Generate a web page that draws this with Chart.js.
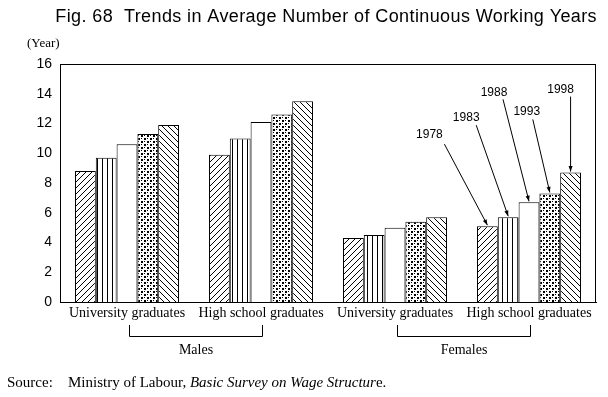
<!DOCTYPE html>
<html>
<head>
<meta charset="utf-8">
<script src="https://cdn.jsdelivr.net/npm/chart.js@4.4.0/dist/chart.umd.min.js"></script>
<style>
  html, body { margin: 0; padding: 0; background: #fff; }
  #chart { display: block; }
</style>
</head>
<body>
<canvas id="chart" width="608" height="397"></canvas>
<script>
// data
const categories = ['University graduates', 'High school graduates', 'University graduates', 'High school graduates'];
const genders = ['Males', 'Females'];
const years = ['1978', '1983', '1988', '1993', '1998'];
const v1978 = [8.8, 9.9, 4.3, 5.1];
const v1983 = [9.7, 11.0, 4.5, 5.7];
const v1988 = [10.6, 12.1, 5.0, 6.7];
const v1993 = [11.3, 12.6, 5.4, 7.3];
const v1998 = [11.9, 13.5, 5.7, 8.7];
const yTicks = [0, 2, 4, 6, 8, 10, 12, 14, 16];

const SANS = '"Liberation Sans", Arial, sans-serif';
const SERIF = '"Liberation Serif", "Times New Roman", serif';

// black & white fill patterns
function makePattern(kind) {
  if (kind === 'none') return '#fff';
  const s = kind === 'vertical' ? 5 : 6;
  const c = document.createElement('canvas');
  c.width = s; c.height = s;
  const g = c.getContext('2d');
  g.fillStyle = '#fff';
  g.fillRect(0, 0, s, s);
  g.strokeStyle = '#000';
  g.fillStyle = '#000';
  g.lineWidth = 1;
  g.beginPath();
  if (kind === 'slash') {
    g.moveTo(-1, s + 1); g.lineTo(s + 1, -1);
    g.moveTo(-1, 1); g.lineTo(1, -1);
    g.moveTo(s - 1, s + 1); g.lineTo(s + 1, s - 1);
    g.stroke();
  } else if (kind === 'backslash') {
    g.moveTo(-1, -1); g.lineTo(s + 1, s + 1);
    g.moveTo(-1, s - 1); g.lineTo(1, s + 1);
    g.moveTo(s - 1, -1); g.lineTo(s + 1, 1);
    g.stroke();
  } else if (kind === 'vertical') {
    g.fillRect(2, 0, 1, s);
  } else if (kind === 'dots') {
    g.fillRect(0, 0, 2, 2);
    g.fillRect(3, 3, 2, 2);
    g.fillRect(0, 3, 1, 1);
    g.fillRect(3, 0, 1, 1);
  }
  return document.getElementById('chart').getContext('2d').createPattern(c, 'repeat');
}

const fills = [makePattern('slash'), makePattern('vertical'), makePattern('none'), makePattern('dots'), makePattern('backslash')];
const series = [v1978, v1983, v1988, v1993, v1998];

// where the year labels sit relative to the top of each high-school-female bar
const yearLabelOffsets = [
  { lx: -58, ly: -91, ax: -43, ay: -82 },
  { lx: -42, ly: -100, ax: -32, ay: -92 },
  { lx: -35, ly: -110, ax: -26, ay: -103 },
  { lx: -23, ly: -82, ax: -17, ay: -74 },
  { lx: -10, ly: -83, ax: 0, ay: -76 },
];

const extras = {
  id: 'extras',
  afterDraw(chart) {
    const { ctx, chartArea: a, scales } = chart;
    const x = scales.x;
    ctx.save();

    // frame
    ctx.strokeStyle = '#000';
    ctx.lineWidth = 1;
    ctx.strokeRect(Math.round(a.left) + 0.5, Math.round(a.top) + 0.5, Math.round(a.right - a.left) - 1, Math.round(a.bottom - a.top));

    ctx.fillStyle = '#000';
    ctx.textBaseline = 'middle';

    // title (a bit wider set than the plain font)
    ctx.font = '18px ' + SANS;
    ctx.textAlign = 'right';
    ctx.letterSpacing = '0.4px';
    ctx.fillText('Fig. 68  Trends in Average Number of Continuous Working Years', 597, 17);
    ctx.letterSpacing = '0px';

    // unit label
    ctx.font = '13px ' + SERIF;
    ctx.textAlign = 'left';
    ctx.fillText('(Year)', 27, 44);

    // Males / Females brackets
    genders.forEach((g, i) => {
      const x1 = Math.round(x.getPixelForValue(i * 2)) + 2.5;
      const x2 = Math.round(x.getPixelForValue(i * 2 + 1)) + 1.5;
      const y1 = a.bottom + 23, y2 = a.bottom + 34.5;
      ctx.beginPath();
      ctx.moveTo(x1, y1); ctx.lineTo(x1, y2); ctx.lineTo(x2, y2); ctx.lineTo(x2, y1);
      ctx.stroke();
      ctx.font = '14px ' + SERIF;
      ctx.textAlign = 'center';
      ctx.fillText(g, (x1 + x2) / 2, a.bottom + 48);
    });

    // source
    ctx.textAlign = 'left';
    ctx.font = '15px ' + SERIF;
    ctx.fillText('Source:', 7, 383);
    let sx = 68;
    const parts = [['Ministry of Labour, ', ''], ['Basic Survey on Wage Structur', 'italic '], ['e.', '']];
    parts.forEach(([t, st]) => {
      ctx.font = st + '15px ' + SERIF;
      ctx.fillText(t, sx, 383);
      sx += ctx.measureText(t).width;
    });

    // year labels with arrows on the last group
    ctx.font = '12px ' + SANS;
    ctx.textAlign = 'center';
    years.forEach((yr, di) => {
      const bar = chart.getDatasetMeta(di).data[categories.length - 1];
      const bx = bar.x, by = bar.y;
      const o = yearLabelOffsets[di];
      ctx.fillText(yr, bx + o.lx, by + o.ly);
      const sx0 = bx + o.ax, sy0 = by + o.ay;
      const ex = bx, ey = by - 1;
      const ang = Math.atan2(ey - sy0, ex - sx0);
      ctx.beginPath();
      ctx.moveTo(sx0, sy0);
      ctx.lineTo(ex, ey);
      ctx.stroke();
      ctx.beginPath();
      ctx.moveTo(ex, ey);
      ctx.lineTo(ex - 6 * Math.cos(ang - 0.35), ey - 6 * Math.sin(ang - 0.35));
      ctx.lineTo(ex - 6 * Math.cos(ang + 0.35), ey - 6 * Math.sin(ang + 0.35));
      ctx.closePath();
      ctx.fill();
    });
    ctx.restore();
  }
};

new Chart(document.getElementById('chart'), {
  type: 'bar',
  data: {
    labels: categories,
    datasets: years.map((yr, i) => ({
      label: yr,
      data: series[i],
      backgroundColor: fills[i],
      borderColor: '#000',
      borderWidth: 1,
      categoryPercentage: 0.776,
      barPercentage: 1,
    })),
  },
  options: {
    responsive: false,
    animation: false,
    devicePixelRatio: 1,
    layout: { padding: { left: 0, right: 12, top: 64, bottom: 0 } },
    plugins: {
      legend: { display: false },
      tooltip: { enabled: false },
      title: { display: false },
    },
    scales: {
      x: {
        grid: { display: false, drawTicks: false },
        border: { display: true, color: '#000', width: 1 },
        ticks: {
          color: '#000',
          font: { family: SERIF, size: 14 },
          padding: 3,
          maxRotation: 0,
          autoSkip: false,
        },
        afterFit(s) { s.height = 95; },
      },
      y: {
        min: 0,
        max: 16,
        afterBuildTicks(s) { s.ticks = yTicks.map(v => ({ value: v })); },
        grid: { display: false, drawTicks: false },
        border: { display: true, color: '#000', width: 1 },
        ticks: {
          color: '#000',
          font: { family: SANS, size: 14 },
          padding: 8,
        },
        afterFit(s) { s.width = 60; },
      },
    },
  },
  plugins: [extras],
});
</script>
</body>
</html>
